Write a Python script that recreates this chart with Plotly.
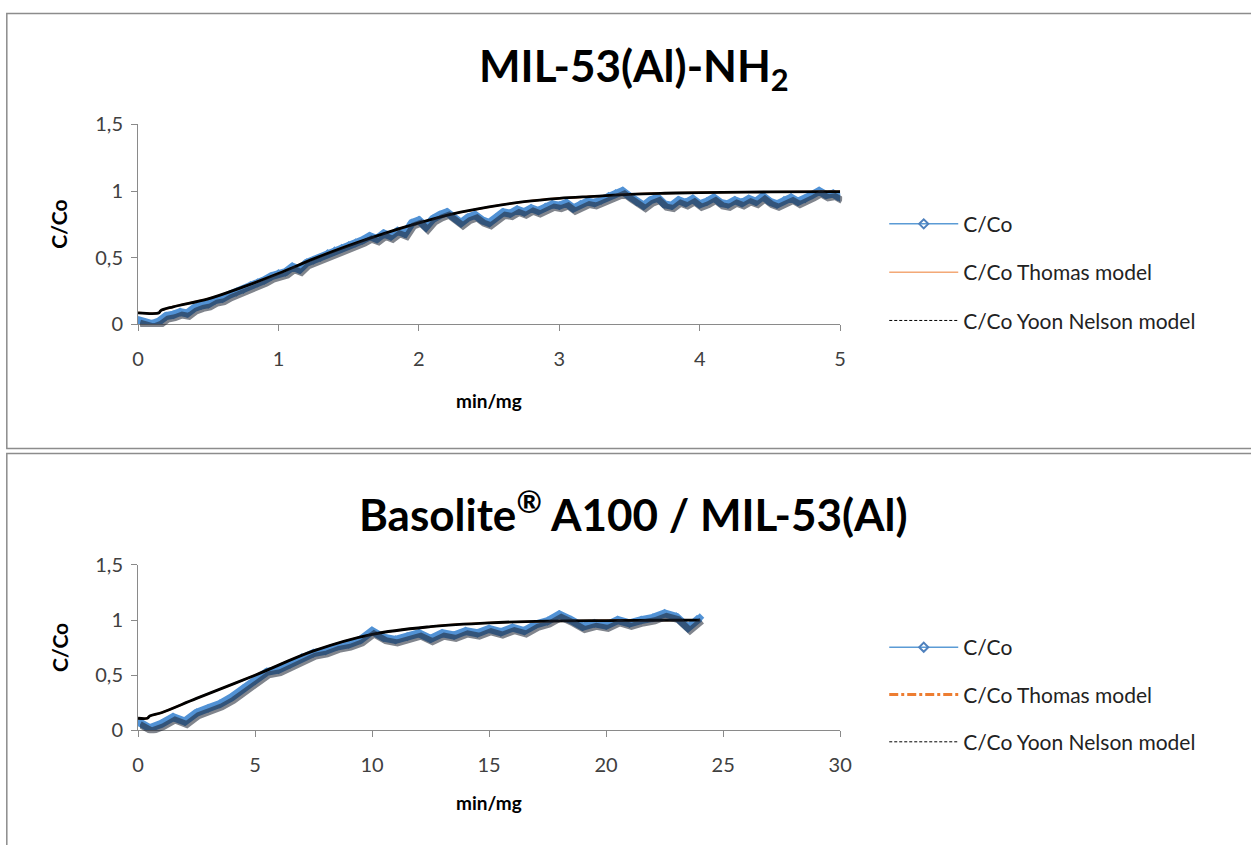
import plotly.graph_objects as go

W, H = 1251, 845

# ---------------- data ----------------
top_x = [0.00, 0.05, 0.10, 0.15, 0.20, 0.25, 0.30, 0.35, 0.40, 0.45,
         0.50, 0.55, 0.60, 0.65, 0.70, 0.75, 0.80, 0.85, 0.90, 0.95,
         1.00, 1.05, 1.10, 1.15, 1.20, 1.25, 1.30, 1.35, 1.40, 1.45,
         1.50, 1.55, 1.60, 1.65, 1.70, 1.75, 1.80, 1.85, 1.90, 1.95,
         2.00, 2.05, 2.10, 2.15, 2.20, 2.25, 2.30, 2.35, 2.40, 2.45,
         2.50, 2.55, 2.60, 2.65, 2.70, 2.75, 2.80, 2.85, 2.90, 2.95,
         3.00, 3.05, 3.10, 3.15, 3.20, 3.25, 3.30, 3.35, 3.40, 3.45,
         3.50, 3.55, 3.60, 3.65, 3.70, 3.75, 3.80, 3.85, 3.90, 3.95,
         4.00, 4.05, 4.10, 4.15, 4.20, 4.25, 4.30, 4.35, 4.40, 4.45,
         4.50, 4.55, 4.60, 4.65, 4.70, 4.75, 4.80, 4.85, 4.90, 4.95, 5.00]
top_cco = [0.03, 0.01, 0.00, 0.02, 0.06, 0.07, 0.09, 0.08, 0.12, 0.14,
           0.15, 0.18, 0.19, 0.22, 0.24, 0.26, 0.29, 0.31, 0.33, 0.36,
           0.38, 0.39, 0.43, 0.41, 0.46, 0.48, 0.50, 0.53, 0.55, 0.57,
           0.59, 0.61, 0.63, 0.66, 0.64, 0.68, 0.66, 0.70, 0.68, 0.76,
           0.78, 0.73, 0.79, 0.82, 0.84, 0.80, 0.76, 0.80, 0.82, 0.78,
           0.76, 0.80, 0.84, 0.83, 0.86, 0.84, 0.87, 0.85, 0.88, 0.90,
           0.89, 0.91, 0.87, 0.90, 0.92, 0.91, 0.93, 0.96, 0.98, 1.00,
           0.96, 0.92, 0.89, 0.93, 0.95, 0.90, 0.89, 0.93, 0.91, 0.94,
           0.90, 0.92, 0.95, 0.91, 0.90, 0.93, 0.91, 0.94, 0.92, 0.96,
           0.92, 0.90, 0.93, 0.95, 0.92, 0.94, 0.97, 1.00, 0.97, 0.98, 0.95]
top_model_x = [0, 0.15, 0.16, 0.25, 0.5, 0.75, 1.0, 1.25, 1.5, 1.75, 2.0,
               2.25, 2.5, 2.75, 3.0, 3.25, 3.5, 3.75, 4.0, 4.5, 5.0]
top_thomas = [0.085, 0.085, 0.10, 0.13, 0.19, 0.28, 0.38, 0.49, 0.59, 0.68, 0.76,
              0.83, 0.88, 0.92, 0.945, 0.96, 0.975, 0.983, 0.988, 0.993, 0.996]
top_yoon = [0.085, 0.085, 0.10, 0.13, 0.19, 0.28, 0.38, 0.49, 0.59, 0.68, 0.76,
            0.83, 0.88, 0.92, 0.945, 0.96, 0.975, 0.983, 0.988, 0.993, 0.996]

bot_x = [0, 0.5, 1.0, 1.5, 2.0, 2.5, 3.0, 3.5, 4.0, 4.5, 5.0, 5.5, 6.0, 6.5,
         7.0, 7.5, 8.0, 8.5, 9.0, 9.5, 10.0, 10.5, 11.0, 11.5, 12.0, 12.5,
         13.0, 13.5, 14.0, 14.5, 15.0, 15.5, 16.0, 16.5, 17.0, 17.5, 18.0,
         18.5, 19.0, 19.5, 20.0, 20.5, 21.0, 21.5, 22.0, 22.5, 23.0, 23.5, 24.0]
bot_cco = [0.08, 0.02, 0.06, 0.12, 0.08, 0.16, 0.20, 0.24, 0.30, 0.38, 0.45,
           0.53, 0.55, 0.60, 0.66, 0.70, 0.72, 0.76, 0.78, 0.82, 0.90, 0.84,
           0.82, 0.85, 0.88, 0.83, 0.88, 0.86, 0.90, 0.88, 0.92, 0.89, 0.93,
           0.90, 0.96, 0.99, 1.05, 1.00, 0.94, 0.97, 0.95, 1.00, 0.97, 1.00,
           1.02, 1.06, 1.03, 0.93, 1.02]
bot_model_x = [0, 0.4, 0.5, 1, 2.5, 5, 7.5, 10, 12.5, 15, 17.5, 20, 22, 24]
bot_thomas = [0.11, 0.11, 0.13, 0.16, 0.29, 0.50, 0.72, 0.87, 0.94, 0.975, 0.99, 0.995, 0.998, 1.0]
bot_yoon = [0.11, 0.11, 0.13, 0.16, 0.29, 0.50, 0.72, 0.87, 0.94, 0.975, 0.99, 0.995, 0.998, 1.0]

titles = ["MIL-53(Al)-NH<sub>2</sub>", "Basolite<sup>®</sup> A100 / MIL-53(Al)"]
y_ticks = [0, 0.5, 1, 1.5]
y_ticktext = ["0", "0,5", "1", "1,5"]
top_x_ticks = [0, 1, 2, 3, 4, 5]
bot_x_ticks = [0, 5, 10, 15, 20, 25, 30]
names = ["C/Co", "C/Co Thomas model", "C/Co Yoon Nelson model"]

# ---------------- style ----------------
FONT = "Lato"
BLUE = "#5293D6"
SHADOW = "#1a2230"
ORANGE = "#ED7D31"

# empirical page-to-screenshot compensation
SX, BX = 0.984, 7.2
SY, BY = 0.9685, 13.9


def px_x(p):
    return ((p - BX) / SX) / W


def px_y(p):
    return (H - (p - BY) / SY) / H


top_dom_x = [px_x(139), px_x(840)]
top_dom_y = [px_y(324), px_y(125)]
bot_dom_x = [px_x(139), px_x(840)]
bot_dom_y = [px_y(729), px_y(564)]
SDX, SDY = 2, 3  # shadow offset in pixels

fig = go.Figure()


def add_panel(ax, shadow_ax, xs, ys, mx, thomas, yoon, legend, thomas_dash, thomas_w):
    xa = "x" if ax == 1 else f"x{ax}"
    ya = "y" if ax == 1 else f"y{ax}"
    sxa = f"x{shadow_ax}"
    sya = f"y{shadow_ax}"
    fig.add_trace(go.Scatter(x=xs, y=ys, xaxis=sxa, yaxis=sya, mode="lines",
                             line=dict(color=SHADOW, width=7), opacity=0.55,
                             showlegend=False, hoverinfo="skip"))
    fig.add_trace(go.Scatter(x=xs, y=ys, xaxis=xa, yaxis=ya, mode="lines+markers",
                             line=dict(color=BLUE, width=8),
                             marker=dict(symbol="diamond", size=7, color=BLUE),
                             showlegend=False))
    fig.add_trace(go.Scatter(x=mx, y=thomas, xaxis=xa, yaxis=ya, mode="lines",
                             line=dict(color=ORANGE, width=2, shape="spline"),
                             showlegend=False))
    fig.add_trace(go.Scatter(x=mx, y=yoon, xaxis=xa, yaxis=ya, mode="lines",
                             line=dict(color="black", width=2.8, shape="spline"),
                             showlegend=False))
    fig.add_trace(go.Scatter(x=[None], y=[None], xaxis=xa, yaxis=ya, mode="lines+markers",
                             name=names[0], legend=legend, legendgroup=legend + "a",
                             line=dict(color="#5B9BD5", width=1.5),
                             marker=dict(symbol="diamond-open", size=7, color="#4F81BD",
                                         line=dict(width=2))))
    fig.add_trace(go.Scatter(x=[None], y=[None], xaxis=xa, yaxis=ya, mode="lines",
                             name=names[1], legend=legend, legendgroup=legend + "b",
                             line=dict(color=ORANGE, width=thomas_w, dash=thomas_dash)))
    fig.add_trace(go.Scatter(x=[None], y=[None], xaxis=xa, yaxis=ya, mode="lines",
                             name=names[2], legend=legend, legendgroup=legend + "c",
                             line=dict(color="black", width=1, dash="3px,2px")))


add_panel(1, 3, top_x, top_cco, top_model_x, top_thomas, top_yoon, "legend", "solid", 1)
add_panel(2, 4, bot_x, bot_cco, bot_model_x, bot_thomas, bot_yoon, "legend2", "dashdot", 3)

tickfont = dict(family=FONT, size=20, color="#404040")
axis_common = dict(showgrid=False, zeroline=False, showline=True, linecolor="#8a8a8a",
                   linewidth=1, ticks="outside", ticklen=6, tickcolor="#8a8a8a",
                   tickfont=tickfont)

fig.update_layout(
    width=W, height=H, margin=dict(l=0, r=0, t=0, b=0),
    paper_bgcolor="white", plot_bgcolor="rgba(0,0,0,0)",
    separators=",.",
    xaxis=dict(domain=top_dom_x, range=[0, 5], tickvals=top_x_ticks, anchor="y",
               ticklabelstandoff=11, **axis_common),
    yaxis=dict(domain=top_dom_y, range=[0, 1.5], tickvals=y_ticks, ticktext=y_ticktext,
               anchor="x", ticklabelstandoff=4, **axis_common),
    xaxis2=dict(domain=bot_dom_x, range=[0, 30], tickvals=bot_x_ticks, anchor="y2",
                ticklabelstandoff=11, **axis_common),
    yaxis2=dict(domain=bot_dom_y, range=[0, 1.5], tickvals=y_ticks, ticktext=y_ticktext,
                anchor="x2", ticklabelstandoff=4, **axis_common),
    xaxis3=dict(domain=[top_dom_x[0] + SDX / W, top_dom_x[1] + SDX / W], range=[0, 5],
                visible=False, anchor="y3"),
    yaxis3=dict(domain=[top_dom_y[0] - SDY / H, top_dom_y[1] - SDY / H], range=[0, 1.5],
                visible=False, anchor="x3"),
    xaxis4=dict(domain=[bot_dom_x[0] + SDX / W, bot_dom_x[1] + SDX / W], range=[0, 30],
                visible=False, anchor="y4"),
    yaxis4=dict(domain=[bot_dom_y[0] - SDY / H, bot_dom_y[1] - SDY / H], range=[0, 1.5],
                visible=False, anchor="x4"),
    legend=dict(x=px_x(884), y=px_y(204), xanchor="left", yanchor="top",
                font=dict(family=FONT, size=21, color="#222"), itemwidth=69,
                tracegroupgap=18, bgcolor="rgba(0,0,0,0)"),
    legend2=dict(x=px_x(884), y=px_y(626), xanchor="left", yanchor="top",
                 font=dict(family=FONT, size=21, color="#222"), itemwidth=69,
                 tracegroupgap=17, bgcolor="rgba(0,0,0,0)"),
    showlegend=True,
)

# chart frames
fig.add_shape(type="rect", xref="paper", yref="paper", x0=px_x(8), x1=px_x(1275),
              y0=px_y(448), y1=min(px_y(13), 0.9995), line=dict(color="#8c8c8c", width=1.5))
fig.add_shape(type="rect", xref="paper", yref="paper", x0=px_x(8), x1=px_x(1275),
              y0=px_y(880), y1=px_y(453), line=dict(color="#8c8c8c", width=1.5))

# titles
fig.add_annotation(text="<b>" + titles[0] + "</b>", xref="paper", yref="paper",
                   x=px_x(634), y=px_y(69), showarrow=False, xanchor="center", yanchor="middle",
                   font=dict(family=FONT, size=44, color="black"))
fig.add_annotation(text="<b>" + titles[1] + "</b>", xref="paper", yref="paper",
                   x=px_x(634), y=px_y(511), showarrow=False, xanchor="center", yanchor="middle",
                   font=dict(family=FONT, size=44, color="black"))

# axis titles
for yc, xc in [(224, 400), (646, 801)]:
    fig.add_annotation(text="<b>C/Co</b>", xref="paper", yref="paper", x=px_x(60), y=px_y(yc),
                       showarrow=False, textangle=-90, xanchor="center", yanchor="middle",
                       font=dict(family=FONT, size=21, color="black"))
    fig.add_annotation(text="<b>min/mg</b>", xref="paper", yref="paper", x=px_x(489), y=px_y(xc),
                       showarrow=False, xanchor="center", yanchor="middle",
                       font=dict(family=FONT, size=19, color="black"))

fig.write_html("out.html", config={"displayModeBar": False},
               post_script="document.body.style.margin='0';document.body.style.overflow='hidden';")
